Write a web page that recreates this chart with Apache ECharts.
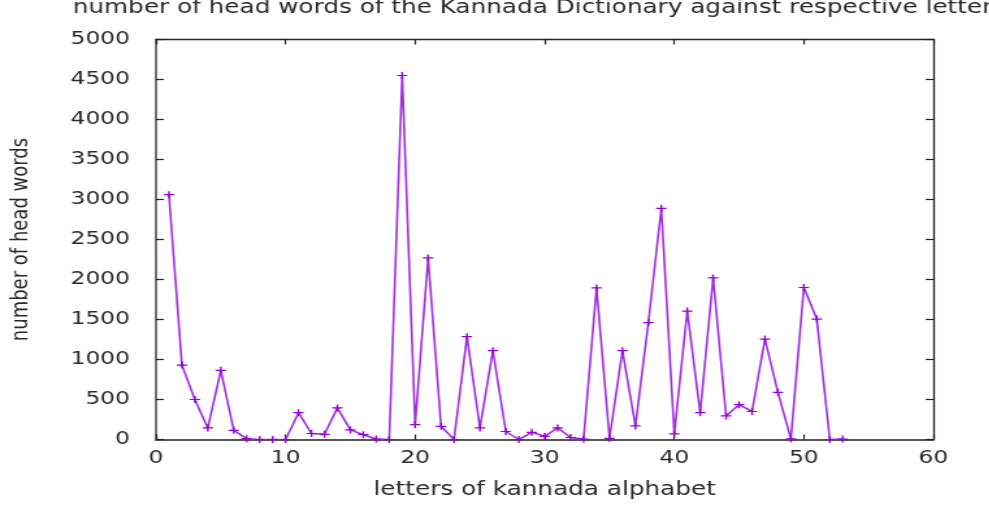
<!DOCTYPE html>
<html>
<head>
<meta charset="utf-8">
<script src="https://cdn.jsdelivr.net/npm/echarts@6/dist/echarts.min.js"></script>
<style>
  html, body { margin: 0; padding: 0; background: #fff; overflow: hidden; }
  /* the reference picture is stretched sideways, so draw narrow and widen it */
  #main { width: 761px; height: 508px; transform: scaleX(1.3); transform-origin: 0 0; }
</style>
</head>
<body>
<div id="main"></div>
<script>
// letter position in the alphabet
var letterIndex = [1, 2, 3, 4, 5, 6, 7, 8, 9, 10, 11, 12, 13, 14, 15, 16, 17, 18, 19, 20,
  21, 22, 23, 24, 25, 26, 27, 28, 29, 30, 31, 32, 33, 34, 35, 36, 37, 38, 39, 40,
  41, 42, 43, 44, 45, 46, 47, 48, 49, 50, 51, 52, 53];
// number of head words for each letter
var headWords = [3060, 930, 500, 145, 865, 115, 10, 0, 0, 0, 335, 75, 65, 395, 120, 60, 5, 0, 4550, 185,
  2270, 165, 0, 1285, 145, 1110, 100, 0, 90, 40, 145, 25, 5, 1895, 15, 1110, 170, 1460, 2890, 70,
  1605, 335, 2020, 295, 435, 350, 1255, 590, 8, 1900, 1505, 0, 5];
var xTicks = [0, 10, 20, 30, 40, 50, 60];
var yTicks = [0, 500, 1000, 1500, 2000, 2500, 3000, 3500, 4000, 4500, 5000];

var points = letterIndex.map(function (x, i) { return [x, headWords[i]]; });

var chart = echarts.init(document.getElementById('main'), null, { renderer: 'canvas' });
var font = 'DejaVu Sans';
var textColor = '#2a2a2a';

var option = {
  backgroundColor: '#fff',
  animation: false,
  title: {
    text: 'number of head words of the Kannada Dictionary against respective letters',
    left: 51,
    top: -6,
    textStyle: { fontFamily: font, fontSize: 19, fontWeight: 'normal', color: textColor }
  },
  grid: { left: 120, right: 43, top: 39.5, bottom: 68.5, outerBoundsMode: 'none' },
  xAxis: [{
    type: 'value',
    min: xTicks[0],
    max: xTicks[xTicks.length - 1],
    interval: 10,
    name: 'letters of kannada alphabet',
    nameLocation: 'middle',
    nameGap: 41,
    nameTextStyle: { fontFamily: font, fontSize: 19, color: textColor },
    axisLine: { show: true, onZero: false, lineStyle: { color: '#555', width: 2 } },
    axisTick: { show: true, inside: true, length: 5, lineStyle: { color: '#222', width: 1.2 } },
    axisLabel: { margin: 10, fontFamily: font, fontSize: 18, color: textColor },
    splitLine: { show: false }
  }, {
    type: 'value',
    position: 'top',
    min: xTicks[0],
    max: xTicks[xTicks.length - 1],
    interval: 10,
    axisLine: { show: true, onZero: false, lineStyle: { color: '#222', width: 1.3 } },
    axisTick: { show: true, inside: true, length: 5, lineStyle: { color: '#222', width: 1.2 } },
    axisLabel: { show: false },
    splitLine: { show: false }
  }],
  yAxis: [{
    type: 'value',
    min: yTicks[0],
    max: yTicks[yTicks.length - 1],
    interval: 500,
    name: 'number of head words',
    nameLocation: 'middle',
    nameGap: 95,
    nameTextStyle: { fontFamily: font, fontSize: 18, color: textColor },
    axisLine: { show: true, onZero: false, lineStyle: { color: '#444', width: 1.5 } },
    axisTick: { show: true, inside: true, length: 6, lineStyle: { color: '#222', width: 1.2 } },
    axisLabel: {
      margin: 20, fontFamily: font, fontSize: 18, color: textColor,
      formatter: function (v) { return String(v); }
    },
    splitLine: { show: false }
  }, {
    type: 'value',
    position: 'right',
    min: yTicks[0],
    max: yTicks[yTicks.length - 1],
    interval: 500,
    axisLine: { show: true, onZero: false, lineStyle: { color: '#222', width: 1.3 } },
    axisTick: { show: true, inside: true, length: 6, lineStyle: { color: '#222', width: 1.2 } },
    axisLabel: { show: false },
    splitLine: { show: false }
  }],
  series: [{
    type: 'line',
    data: points,
    xAxisIndex: 0,
    yAxisIndex: 0,
    symbol: 'path://M0,5L10,5M5,0L5,10',
    symbolSize: [8, 7],
    showAllSymbol: true,
    clip: false,
    lineStyle: { color: '#a02ee0', width: 1.6 },
    itemStyle: { color: 'none', borderColor: '#9400d3', borderWidth: 1.3 },
    emphasis: { disabled: true }
  }]
};

chart.setOption(option);
</script>
</body>
</html>
